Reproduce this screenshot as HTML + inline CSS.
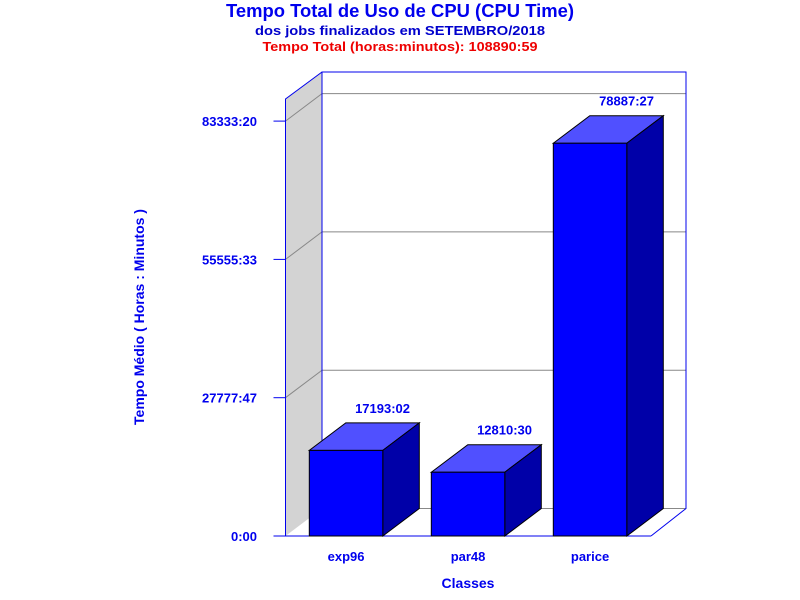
<!DOCTYPE html>
<html><head><meta charset="utf-8"><style>
html,body{margin:0;padding:0;background:#fff;}
svg{display:block;font-family:"Liberation Sans",Arial,sans-serif;font-weight:bold;}
</style></head><body>
<svg id="chart" width="800" height="600" viewBox="0 0 800 600">
<text x="400" y="17" text-anchor="middle" font-size="18" fill="#0000ee" textLength="348" lengthAdjust="spacingAndGlyphs">Tempo Total de Uso de CPU (CPU Time)</text>
<text x="400" y="35" text-anchor="middle" font-size="13" fill="#0000cc" textLength="290" lengthAdjust="spacingAndGlyphs">dos jobs finalizados em SETEMBRO/2018</text>
<text x="400" y="51" text-anchor="middle" font-size="13" fill="#ee0000" textLength="275" lengthAdjust="spacingAndGlyphs">Tempo Total (horas:minutos): 108890:59</text>
<g id="plot"></g>
<text transform="translate(144,317) rotate(-90)" text-anchor="middle" font-size="14" fill="#0000ee">Tempo Médio ( Horas : Minutos )</text>
<text x="468" y="588" text-anchor="middle" font-size="14" fill="#0000ee">Classes</text>
</svg>
<script>
const categories = ["exp96", "par48", "parice"];
const values = [17193.03, 12810.5, 78887.45];
const valueLabels = ["17193:02", "12810:30", "78887:27"];
const tickValues = [0, 27777.78, 55555.56, 83333.33];
const tickLabels = ["0:00", "27777:47", "55555:33", "83333:20"];

const NS = "http://www.w3.org/2000/svg";
const g = document.getElementById("plot");
const x0 = 285.5, y0 = 536, dx = 36.5, dy = 27.5;
const pxPerUnit = 138.3 / 27777.78;
const yS = v => y0 - v * pxPerUnit;
const slot = 122, barW = 73.5, firstX = 309.3;
const xS = i => firstX + i * slot;
function el(tag, attrs, parent) {
  const e = document.createElementNS(NS, tag);
  for (const k in attrs) e.setAttribute(k, attrs[k]);
  (parent || g).appendChild(e);
  return e;
}
// side wall
const wall = el("polygon", {points: `${x0},${y0} ${x0},99 ${x0+dx},${99-dy} ${x0+dx},${y0-dy}`, fill: "#d3d3d3", stroke: "none"});


// back wall frame
const backR = 686;
// gridlines
tickValues.forEach((v, i) => {
  const y = yS(v);
  if (i > 0) {
    const gl = el("polyline", {points: `${x0},${y} ${x0+dx},${y-dy} ${backR},${y-dy}`, fill: "none", stroke: "#888", "stroke-width": 1});
    
    
  }
  const tk = el("line", {x1: x0-12, y1: y, x2: x0, y2: y, stroke: "#0000ee"});
  
  
  const t = el("text", {x: 257, y: y+5, "text-anchor": "end", "font-size": 13, fill: "#0000ee"});
  t.textContent = tickLabels[i];
  
  
});
const floorBack = el("line", {x1: x0+dx, y1: y0-dy, x2: backR, y2: y0-dy, stroke: "#888"});


const frame = el("polyline", {points: `${x0+dx},${y0-dy} ${x0+dx},72 ${backR},72 ${backR},${y0-dy} 651,${y0}`, fill: "none", stroke: "#0000ee"});


const leftEdge = el("polyline", {points: `${x0},${y0} ${x0},99 ${x0+dx},72`, fill: "none", stroke: "#0000ee"});


const bottom = el("line", {x1: x0, y1: y0, x2: 651, y2: y0, stroke: "#0000ee"});


// bars
values.forEach((v, i) => {
  const x = xS(i), y = yS(v), w = barW;
  const top = el("polygon", {points: `${x},${y} ${x+dx},${y-dy} ${x+w+dx},${y-dy} ${x+w},${y}`, fill: "#5050ff", stroke: "#000"});
  
  
  const side = el("polygon", {points: `${x+w},${y} ${x+w+dx},${y-dy} ${x+w+dx},${y0-dy} ${x+w},${y0}`, fill: "#0000a8", stroke: "#000"});
  
  
  const front = el("rect", {x: x, y: y, width: w, height: y0 - y, fill: "#0000ff", stroke: "#000"});
  
  
  const lbl = el("text", {x: x + w/2 + dx, y: y - dy - 10, "text-anchor": "middle", "font-size": 13, fill: "#0000ee"});
  lbl.textContent = valueLabels[i];
  
  
  const cl = el("text", {x: x + w/2, y: 561, "text-anchor": "middle", "font-size": 13, fill: "#0000ee"});
  cl.textContent = categories[i];
  
  
});
</script>
</body></html>
